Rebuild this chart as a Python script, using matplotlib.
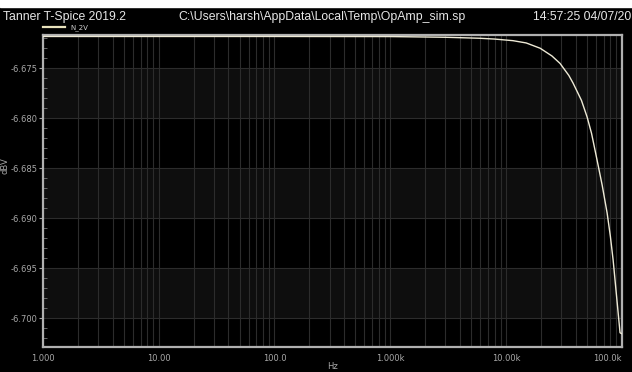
import numpy as np
import matplotlib
matplotlib.use("Agg")
import matplotlib.pyplot as plt
from matplotlib.ticker import FixedLocator, NullFormatter

# N_2V frequency sweep (Hz vs dBV)
freq = [1.0, 10.0, 100.0, 1000.0, 3000.0, 5980.0, 8000.0, 11500.0, 15000.0,
        19800.0, 25000.0, 29400.0, 35000.0, 38100.0, 45000.0, 50400.0,
        55000.0, 61400.0, 68000.0, 75000.0, 80000.0, 84500.0, 90000.0,
        97000.0, 100000.0]
dbv = [-6.67180, -6.67180, -6.67180, -6.67181, -6.67188, -6.67198, -6.67206,
       -6.67222, -6.67245, -6.67298, -6.67375, -6.67450, -6.67570, -6.67647,
       -6.67820, -6.67987, -6.68150, -6.68417, -6.68670, -6.68947, -6.69180,
       -6.69417, -6.69750, -6.70147, -6.70155]

xticks = [1, 10, 100, 1e3, 1e4, 1e5]
xlabels = ["1.000", "10.00", "100.0", "1.000k", "10.00k", "100.0k"]
yticks = [-6.700, -6.695, -6.690, -6.685, -6.680, -6.675]
ylabels = ["-6.700", "-6.695", "-6.690", "-6.685", "-6.680", "-6.675"]

bg = "black"
fg = "#a8a8a8"
grid_c = "#2c2c2c"
trace_c = "#eeead6"

fig = plt.figure(figsize=(6.32, 3.72), dpi=100, facecolor=bg)
# white strip along the top edge
fig.add_artist(plt.Rectangle((0, 0.982), 1, 0.02, transform=fig.transFigure,
                             color="white", zorder=-1))

ax = fig.add_axes([0.068, 0.067, 0.9155, 0.839], facecolor=bg)
ax.set_xscale("log")
ax.set_xlim(1, 1e5)
ax.set_ylim(-6.7029, -6.67165)

# alternating shaded bands between major y divisions
for lo in [-6.700, -6.690, -6.680]:
    ax.axhspan(lo, lo + 0.005, color="#0e0e0e", lw=0, zorder=0)

# grid: every 1..9 in each decade, plus major y lines
for dec in [1, 10, 100, 1e3, 1e4]:
    for m in range(1, 10):
        ax.axvline(dec * m, color=grid_c, lw=0.8, zorder=1)
for y in yticks:
    ax.axhline(y, color=grid_c, lw=0.8, zorder=1)

ax.plot(freq, dbv, color=trace_c, lw=1.0, zorder=3)

ax.xaxis.set_major_locator(FixedLocator(xticks))
ax.set_xticklabels(xlabels)
ax.xaxis.set_minor_formatter(NullFormatter())
ax.xaxis.set_minor_locator(FixedLocator([]))
ax.tick_params(axis="x", length=0, pad=5, labelsize=6, colors=fg)
# keep the last label inside the canvas
ax.get_xticklabels()[-1].set_horizontalalignment("right")
ax.get_xticklabels()[-1].set_x(1e5)

ax.yaxis.set_major_locator(FixedLocator(yticks))
ax.set_yticklabels(ylabels)
ax.yaxis.set_minor_locator(FixedLocator(np.arange(-6.702, -6.672, 0.001)))
ax.tick_params(axis="y", which="major", direction="out", length=3, width=0.8,
               pad=1, labelsize=6, colors=fg)
ax.tick_params(axis="y", which="minor", direction="in", length=3, width=0.6,
               colors="#7a7a7a")

for s in ax.spines.values():
    s.set_color("#b0b0b0")
    s.set_linewidth(1.6)

ax.set_xlabel("Hz", color=fg, fontsize=6, labelpad=-1)
ax.set_ylabel("dBV", color=fg, fontsize=6)
ax.yaxis.set_label_coords(-0.058, 0.58)

# header line
hdr = dict(color="#e6e6e6", fontsize=8.8, va="center", family="Liberation Sans")
fig.text(0.005, 0.955, "Tanner T-Spice 2019.2", **hdr)
fig.text(0.283, 0.955, r"C:\Users\harsh\AppData\Local\Temp\OpAmp_sim.sp", **hdr)
fig.text(0.999, 0.955, "14:57:25 04/07/20", ha="right", **hdr)

# legend entry
fig.add_artist(plt.Line2D([0.068, 0.103], [0.927, 0.927], transform=fig.transFigure,
                          color="#e8e2bc", lw=1.6))
fig.text(0.111, 0.927, "N_2V", color="#cfcfcf", fontsize=5, va="center")

fig.savefig("out.png", dpi=100, facecolor=bg)
